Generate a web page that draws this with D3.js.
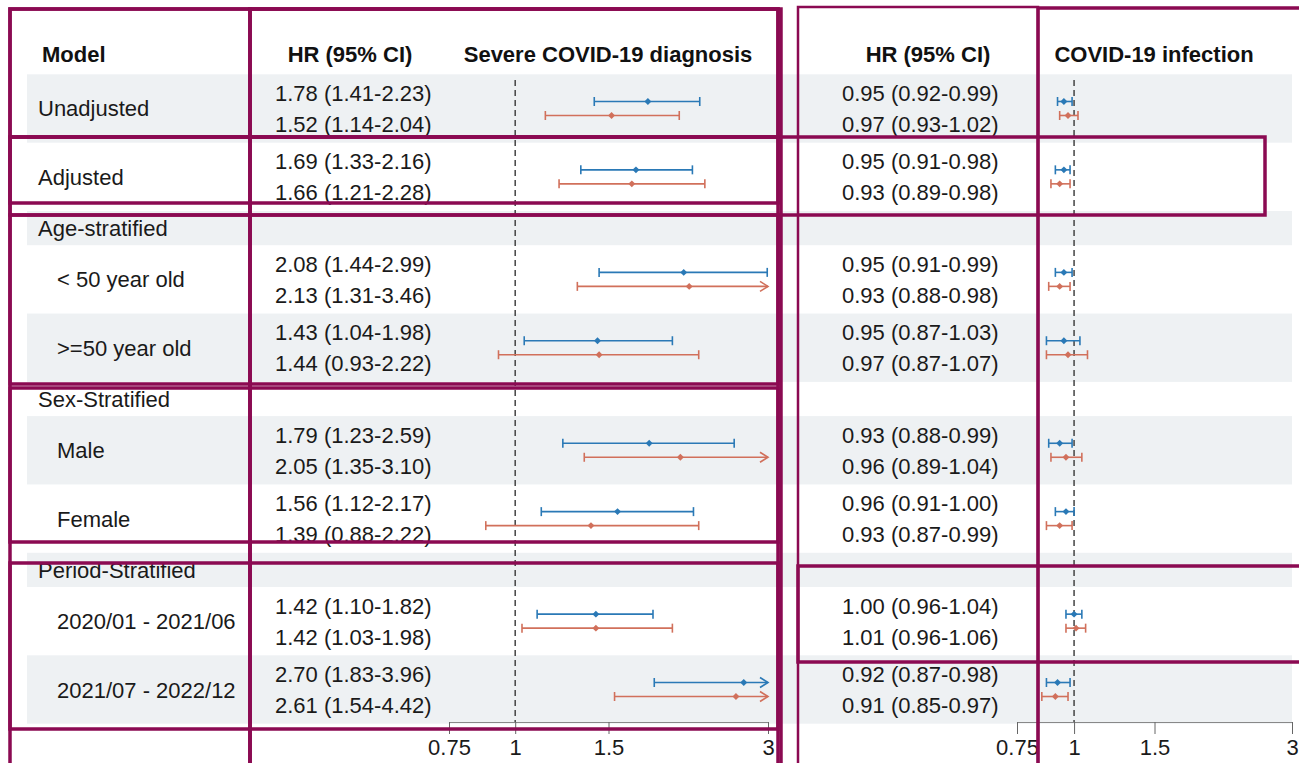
<!DOCTYPE html>
<html>
<head>
<meta charset="utf-8">
<script src="https://cdn.jsdelivr.net/npm/d3@7"></script>
<style>
  body { margin: 0; background: #fff; }
  svg { display: block; font-family: Arial, "Liberation Sans", sans-serif; }
</style>
</head>
<body>
<svg id="forest" width="1299" height="763"></svg>
<script>
// ---- data ----
const models = ["Unadjusted", "Adjusted", "< 50 year old", ">=50 year old",
                "Male", "Female", "2020/01 - 2021/06", "2021/07 - 2022/12"];
const groups = ["Age-stratified", "Sex-Stratified", "Period-Stratified"];
// [HR, lower, upper]
const severeBlue = [[1.78, 1.41, 2.23], [1.69, 1.33, 2.16], [2.08, 1.44, 2.99], [1.43, 1.04, 1.98],
                    [1.79, 1.23, 2.59], [1.56, 1.12, 2.17], [1.42, 1.10, 1.82], [2.70, 1.83, 3.96]];
const severeRed  = [[1.52, 1.14, 2.04], [1.66, 1.21, 2.28], [2.13, 1.31, 3.46], [1.44, 0.93, 2.22],
                    [2.05, 1.35, 3.10], [1.39, 0.88, 2.22], [1.42, 1.03, 1.98], [2.61, 1.54, 4.42]];
const infectBlue = [[0.95, 0.92, 0.99], [0.95, 0.91, 0.98], [0.95, 0.91, 0.99], [0.95, 0.87, 1.03],
                    [0.93, 0.88, 0.99], [0.96, 0.91, 1.00], [1.00, 0.96, 1.04], [0.92, 0.87, 0.98]];
const infectRed  = [[0.97, 0.93, 1.02], [0.93, 0.89, 0.98], [0.93, 0.88, 0.98], [0.97, 0.87, 1.07],
                    [0.96, 0.89, 1.04], [0.93, 0.87, 0.99], [1.01, 0.96, 1.06], [0.91, 0.85, 0.97]];
const tickVals = [0.75, 1, 1.5, 3];

// ---- layout ----
const svg = d3.select('#forest');
const BLUE = '#2a79b6', RED = '#d1705b', BAND = '#eef1f3', PURPLE = '#8b0a52';
const FONT = 22;

// table structure: model rows take two lines, group headings take one
const layout = [
  {type: 'model', i: 0}, {type: 'model', i: 1},
  {type: 'group', g: 0}, {type: 'model', i: 2, sub: true}, {type: 'model', i: 3, sub: true},
  {type: 'group', g: 1}, {type: 'model', i: 4, sub: true}, {type: 'model', i: 5, sub: true},
  {type: 'group', g: 2}, {type: 'model', i: 6, sub: true}, {type: 'model', i: 7, sub: true}
];
let slot = 0;
layout.forEach(r => { r.slot = slot; slot += r.type === 'model' ? 2 : 1; });

const y = d3.scaleLinear().domain([0, 18]).range([91.4, 706.6]);
const half = (y(1) - y(0)) / 2;
const xL = d3.scaleLog().domain([0.75, 3]).range([449, 768]);
const xR = d3.scaleLog().domain([0.75, 3]).range([1017, 1292]);
const f2 = d3.format('.2f');
const hrText = d => `${f2(d[0])} (${f2(d[1])}-${f2(d[2])})`;
const midOf = r => (y(r.slot) + y(r.slot + 1)) / 2;

// alternating bands
layout.forEach((r, k) => {
  if (k % 2 === 1) return;
  const top = y(r.slot) - half;
  const bot = y(r.slot + (r.type === 'model' ? 1 : 0)) + half;
  svg.append('rect').attr('x', 27).attr('y', top).attr('width', 1265).attr('height', bot - top)
     .attr('fill', BAND);
});

// headers
const head = svg.append('g').attr('font-weight', 'bold').attr('font-size', FONT).attr('fill', '#111');
head.append('text').attr('x', 42).attr('y', 62).text('Model');
head.append('text').attr('x', 350).attr('y', 62).attr('text-anchor', 'middle').text('HR (95% CI)');
head.append('text').attr('x', 608).attr('y', 62).attr('text-anchor', 'middle').text('Severe COVID-19 diagnosis');
head.append('text').attr('x', 928).attr('y', 62).attr('text-anchor', 'middle').text('HR (95% CI)');
head.append('text').attr('x', 1154).attr('y', 62).attr('text-anchor', 'middle').text('COVID-19 infection');

// row labels + HR text
const body = svg.append('g').attr('font-size', FONT).attr('fill', '#1a1a1a');
layout.forEach(r => {
  if (r.type === 'group') {
    body.append('text').attr('x', 38).attr('y', y(r.slot) + 8).text(groups[r.g]);
    return;
  }
  const mid = midOf(r);
  body.append('text').attr('x', r.sub ? 57 : 38).attr('y', mid + 8).text(models[r.i]);
  body.append('text').attr('x', 275).attr('y', mid - 15.5 + 8).text(hrText(severeBlue[r.i]));
  body.append('text').attr('x', 275).attr('y', mid + 15.5 + 8).text(hrText(severeRed[r.i]));
  body.append('text').attr('x', 842).attr('y', mid - 15.5 + 8).text(hrText(infectBlue[r.i]));
  body.append('text').attr('x', 842).attr('y', mid + 15.5 + 8).text(hrText(infectRed[r.i]));
});

// reference lines at HR = 1
[xL, xR].forEach(x => {
  svg.append('line').attr('x1', x(1)).attr('x2', x(1)).attr('y1', 80).attr('y2', 722)
     .attr('stroke', '#444').attr('stroke-width', 1.5).attr('stroke-dasharray', '6,4');
});

// CI marks
function drawCI(g, x, d, cy, color) {
  const [lo, hi] = x.domain();
  const x1 = x(Math.max(d[1], lo)), x2 = x(Math.min(d[2], hi));
  g.append('line').attr('x1', x1).attr('x2', x2).attr('y1', cy).attr('y2', cy)
   .attr('stroke', color).attr('stroke-width', 1.6);
  if (d[1] >= lo) g.append('line').attr('x1', x1).attr('x2', x1).attr('y1', cy - 4.5).attr('y2', cy + 4.5)
   .attr('stroke', color).attr('stroke-width', 1.6);
  if (d[2] <= hi) {
    g.append('line').attr('x1', x2).attr('x2', x2).attr('y1', cy - 4.5).attr('y2', cy + 4.5)
     .attr('stroke', color).attr('stroke-width', 1.6);
  } else {
    g.append('path').attr('d', `M${x2 - 8},${cy - 5}L${x2},${cy}L${x2 - 8},${cy + 5}`)
     .attr('fill', 'none').attr('stroke', color).attr('stroke-width', 1.6);
  }
  g.append('path').attr('transform', `translate(${x(d[0])},${cy}) rotate(45)`)
   .attr('d', d3.symbol().type(d3.symbolSquare).size(24)).attr('fill', color);
}
const marks = svg.append('g');
layout.filter(r => r.type === 'model').forEach(r => {
  const mid = midOf(r);
  drawCI(marks, xL, severeBlue[r.i], mid - 7, BLUE);
  drawCI(marks, xL, severeRed[r.i], mid + 7, RED);
  drawCI(marks, xR, infectBlue[r.i], mid - 7, BLUE);
  drawCI(marks, xR, infectRed[r.i], mid + 7, RED);
});

// axes
[xL, xR].forEach(x => {
  const ax = svg.append('g').attr('transform', 'translate(0,722)')
    .call(d3.axisBottom(x).tickValues(tickVals).tickFormat(d => String(d))
      .tickSize(12).tickSizeOuter(0).tickPadding(5));
  ax.select('.domain').attr('stroke', '#888');
  ax.selectAll('.tick line').attr('stroke', '#666');
  ax.selectAll('.tick text').attr('font-size', FONT).attr('fill', '#1a1a1a')
    .attr('font-family', 'Arial, "Liberation Sans", sans-serif');
});

// annotation boxes drawn over the figure
const overlay = svg.append('g').attr('fill', 'none').attr('stroke', PURPLE).attr('stroke-width', 3.5);
[[10, 9, 778, 137], [10, 137, 778, 203], [10, 137, 1265, 215], [10, 215, 778, 384],
 [10, 388, 778, 542], [10, 563, 778, 729], [10, 9, 250, 800], [250, 9, 778, 800],
 [250, 9, 781, 800], [1038, 8, 1330, 800], [798, 566, 1330, 662]]
  .forEach(b => overlay.append('rect').attr('x', b[0]).attr('y', b[1])
    .attr('width', b[2] - b[0]).attr('height', b[3] - b[1]));
overlay.append('rect').attr('x', 798).attr('y', 7).attr('width', 240).attr('height', 800)
  .attr('stroke-width', 2.5);
</script>
</body>
</html>
